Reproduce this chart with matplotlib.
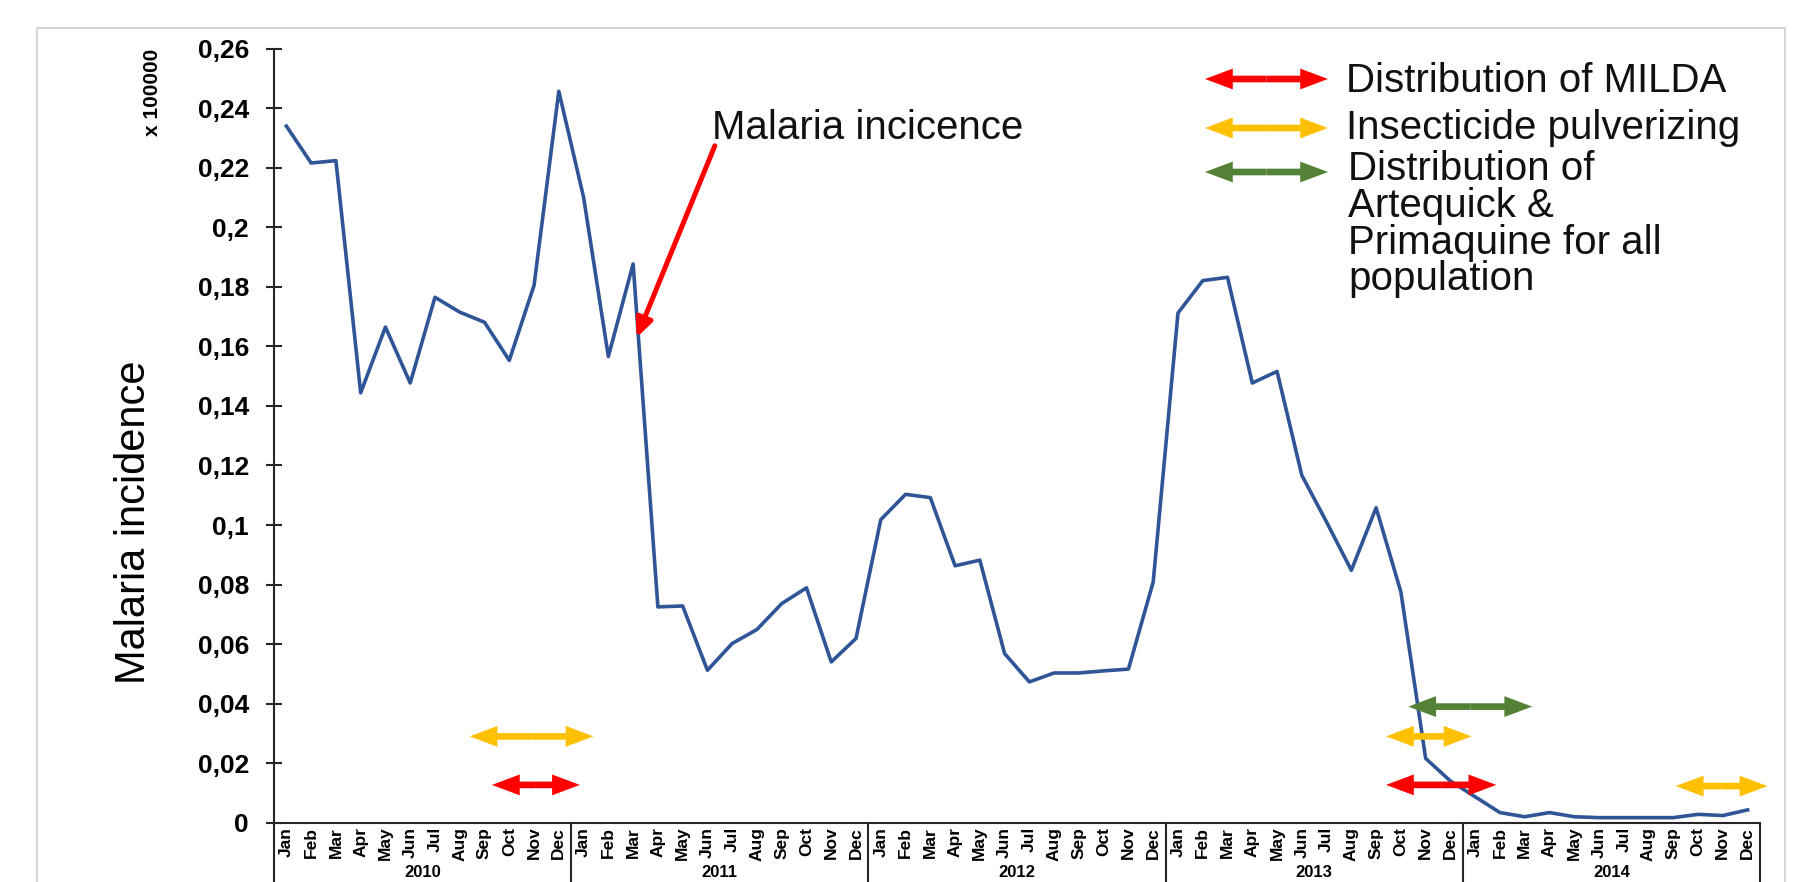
import matplotlib
matplotlib.use("Agg")
import matplotlib.pyplot as plt
from matplotlib.patches import FancyArrowPatch, Rectangle

plt.rcParams['font.family'] = ['Liberation Sans', 'DejaVu Sans']

# ---------------- data ----------------
years = ['2010', '2011', '2012', '2013', '2014']
months = ['Jan', 'Feb', 'Mar', 'Apr', 'May', 'Jun', 'Jul', 'Aug', 'Sep', 'Oct', 'Nov', 'Dec']

inc_2010 = [0.2340, 0.2216, 0.2224, 0.1444, 0.1665, 0.1477, 0.1765, 0.1715, 0.1681, 0.1553, 0.1805, 0.2457]
inc_2011 = [0.2101, 0.1566, 0.1877, 0.0725, 0.0728, 0.0512, 0.0602, 0.0649, 0.0736, 0.0789, 0.0540, 0.0619]
inc_2012 = [0.1018, 0.1103, 0.1092, 0.0863, 0.0882, 0.0568, 0.0473, 0.0503, 0.0503, 0.0510, 0.0516, 0.0809]
inc_2013 = [0.1712, 0.1821, 0.1832, 0.1477, 0.1516, 0.1167, 0.1010, 0.0848, 0.1058, 0.0775, 0.0216, 0.0140]
inc_2014 = [0.0087, 0.0034, 0.0020, 0.0034, 0.0020, 0.0017, 0.0017, 0.0017, 0.0017, 0.0028, 0.0024, 0.0043]

y_ticks = [0, 0.02, 0.04, 0.06, 0.08, 0.10, 0.12, 0.14, 0.16, 0.18, 0.20, 0.22, 0.24, 0.26]
y_tick_labels = ['0', '0,02', '0,04', '0,06', '0,08', '0,1', '0,12', '0,14', '0,16', '0,18',
                 '0,2', '0,22', '0,24', '0,26']

# intervention periods (month index from Jan 2010 = 0) and arrow level
milda_start = [8.3, 44.4]
milda_end = [11.85, 48.85]
milda_level = [0.0127, 0.0127]

spray_start = [7.4, 44.4, 56.1]
spray_end = [12.4, 47.85, 59.8]
spray_level = [0.029, 0.029, 0.0123]

drug_start = [45.3]
drug_end = [50.3]
drug_level = [0.039]

legend_labels = ['Distribution of MILDA', 'Insecticide pulverizing',
                 'Distribution of\nArtequick &\nPrimaquine for all\npopulation']

annot_text = 'Malaria incicence'
annot_tip = (14.14, 0.163)
annot_from = (17.3, 0.2274)
annot_text_pos = (17.17, 0.2297)

RED = '#ff0000'
GOLD = '#ffc000'
GREEN = '#538135'
LINE = '#2f5597'

incidence = inc_2010 + inc_2011 + inc_2012 + inc_2013 + inc_2014
x = list(range(len(incidence)))

# ---------------- figure ----------------
W, H = 1820, 882
fig = plt.figure(figsize=(W / 100, H / 100), dpi=100)
ax_left, ax_right, ax_top, ax_bottom = 274, 1760, 48.7, 822.7
ax = fig.add_axes([ax_left / W, (H - ax_bottom) / H, (ax_right - ax_left) / W, (ax_bottom - ax_top) / H])

# outer light-grey frame
fig.add_artist(Rectangle((36.7 / W, -0.05), (1785 - 36.7) / W, 1 - 28.3 / H + 0.05,
                         transform=fig.transFigure, fill=False, edgecolor='#d6d6d6', lw=1.5))

ax.plot(x, incidence, color=LINE, lw=2.6, zorder=3)

ax.set_xlim(-0.5, len(incidence) - 0.5)
ax.set_ylim(0, 0.26)

for s in ['top', 'right']:
    ax.spines[s].set_visible(False)
for s in ['left', 'bottom']:
    ax.spines[s].set_color('#262626')
    ax.spines[s].set_linewidth(1.5)

ax.set_yticks(y_ticks)
ax.set_yticklabels(y_tick_labels, fontsize=19, fontweight='bold')
ax.tick_params(axis='y', direction='inout', length=12, width=1.5, pad=12, color='#262626')

ax.set_xticks(x)
ax.set_xticklabels(months * len(years), rotation=90, fontsize=12.5, fontweight='bold')
ax.tick_params(axis='x', length=0, pad=3)

# year group separators and labels below the axis
xt = ax.get_xaxis_transform()
for k in range(len(years) + 1):
    b = -0.5 + 12 * k
    ax.plot([b, b], [0, -0.12], transform=xt, color='#262626', lw=1.5, clip_on=False)
year_y = -(880 - ax_bottom) / (ax_bottom - ax_top)
for k, yr in enumerate(years):
    ax.text(5.5 + 12 * k, year_y, yr, transform=xt, ha='center', va='bottom',
            fontsize=12, fontweight='bold', clip_on=False)


def double_arrow(container, x0, x1, y, color, transform):
    xm = (x0 + x1) / 2
    for xe in (x0, x1):
        p = FancyArrowPatch((xm, y), (xe, y),
                            arrowstyle='simple,head_length=20,head_width=15,tail_width=4.8',
                            mutation_scale=1, color=color, lw=0, shrinkA=0, shrinkB=0,
                            transform=transform, clip_on=False, zorder=4)
        container.add_artist(p)


for a, b, lv in zip(spray_start, spray_end, spray_level):
    double_arrow(ax, a, b, lv, GOLD, ax.transData)
for a, b, lv in zip(milda_start, milda_end, milda_level):
    double_arrow(ax, a, b, lv, RED, ax.transData)
for a, b, lv in zip(drug_start, drug_end, drug_level):
    double_arrow(ax, a, b, lv, GREEN, ax.transData)

# annotation arrow
ax.annotate('', xy=annot_tip, xytext=annot_from,
            arrowprops=dict(arrowstyle='-|>,head_length=0.55,head_width=0.25', color=RED,
                            lw=3.6, mutation_scale=20, shrinkA=0, shrinkB=0), zorder=5)
ax.text(annot_text_pos[0], annot_text_pos[1], annot_text, fontsize=29, ha='left', va='baseline',
        color='#111111')

# legend (arrows + labels)
leg_colors = [RED, GOLD, GREEN]
leg_arrow_y = [79, 128, 172]
for c, yy in zip(leg_colors, leg_arrow_y):
    double_arrow(fig, 1205 / W, 1328 / W, 1 - yy / H, c, fig.transFigure)

leg_text_y = [81, 128]
fig.text(1346 / W, 1 - leg_text_y[0] / H, legend_labels[0], fontsize=29, ha='left', va='center', color='#111111')
fig.text(1346 / W, 1 - leg_text_y[1] / H, legend_labels[1], fontsize=29, ha='left', va='center', color='#111111')
multi_y = [169, 206, 243, 279]
for line, yy in zip(legend_labels[2].split('\n'), multi_y):
    fig.text(1348 / W, 1 - yy / H, line, fontsize=29, ha='left', va='center', color='#111111')

# axis titles
fig.text(134 / W, 1 - 522 / H, 'Malaria incidence', rotation=90, fontsize=30, ha='center', va='center')
fig.text(152.5 / W, 1 - 92.5 / H, 'x 100000', rotation=90, fontsize=15, fontweight='bold',
         ha='center', va='center')

fig.savefig('out.png', dpi=100)
